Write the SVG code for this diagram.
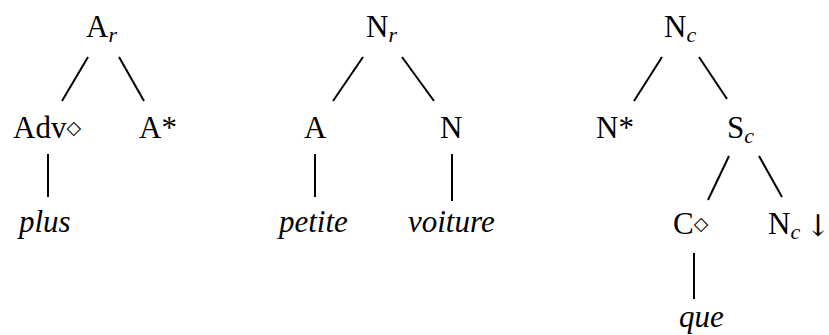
<svg xmlns="http://www.w3.org/2000/svg" width="829" height="335" viewBox="0 0 829 335">
<style>
text { font-family: "Liberation Serif", "Times New Roman", serif; font-size: 31px; fill: #000; }
.it { font-style: italic; }
.sub { font-style: italic; font-size: 22px; }
.dia { font-family: "DejaVu Sans", sans-serif; font-size: 19px; }
.arr { font-family: "DejaVu Serif", serif; font-size: 30px; }
.edges line { stroke: #000; stroke-width: 2; stroke-linecap: butt; }
</style>
<rect width="829" height="335" fill="#fff"/>
<g class="edges" id="connectors">
  <line x1="88" y1="57" x2="62" y2="101"/>
  <line x1="119" y1="57" x2="144" y2="101"/>
  <line x1="48" y1="154" x2="48" y2="197"/>
  <line x1="363" y1="57" x2="333" y2="101"/>
  <line x1="402" y1="57" x2="434" y2="101"/>
  <line x1="315" y1="154" x2="315" y2="197"/>
  <line x1="452" y1="154" x2="452" y2="201"/>
  <line x1="662" y1="57" x2="634" y2="101"/>
  <line x1="699" y1="57" x2="727" y2="99"/>
  <line x1="729" y1="156" x2="708" y2="200"/>
  <line x1="759" y1="156" x2="782" y2="197"/>
  <line x1="694" y1="253" x2="694" y2="299"/>
</g>
<g id="t1-Ar"><text x="86" y="37">A<tspan class="sub" dy="5">r</tspan></text></g>
<g id="t1-Adv"><text x="13" y="138">Adv<tspan class="dia" dy="-4">◇</tspan></text></g>
<g id="t1-Astar"><text x="139" y="138">A*</text></g>
<g id="t1-plus"><text class="it" x="19" y="232">plus</text></g>
<g id="t2-Nr"><text x="366" y="37">N<tspan class="sub" dy="5">r</tspan></text></g>
<g id="t2-A"><text x="304" y="138">A</text></g>
<g id="t2-N"><text x="440" y="138">N</text></g>
<g id="t2-petite"><text class="it" x="279" y="232">petite</text></g>
<g id="t2-voiture"><text class="it" x="408" y="232">voiture</text></g>
<g id="t3-Nc"><text x="664" y="37">N<tspan class="sub" dy="5">c</tspan></text></g>
<g id="t3-Nstar"><text x="596" y="138">N*</text></g>
<g id="t3-Sc"><text x="727" y="138">S<tspan class="sub" dy="5">c</tspan></text></g>
<g id="t3-C"><text x="673" y="234">C<tspan class="dia" dy="-4">◇</tspan></text></g>
<g id="t3-Ncdown"><text x="768" y="234">N<tspan class="sub" dy="5">c</tspan><tspan class="arr" dy="-3" dx="5">↓</tspan></text></g>
<g id="t3-que"><text class="it" x="679" y="327">que</text></g>
</svg>
